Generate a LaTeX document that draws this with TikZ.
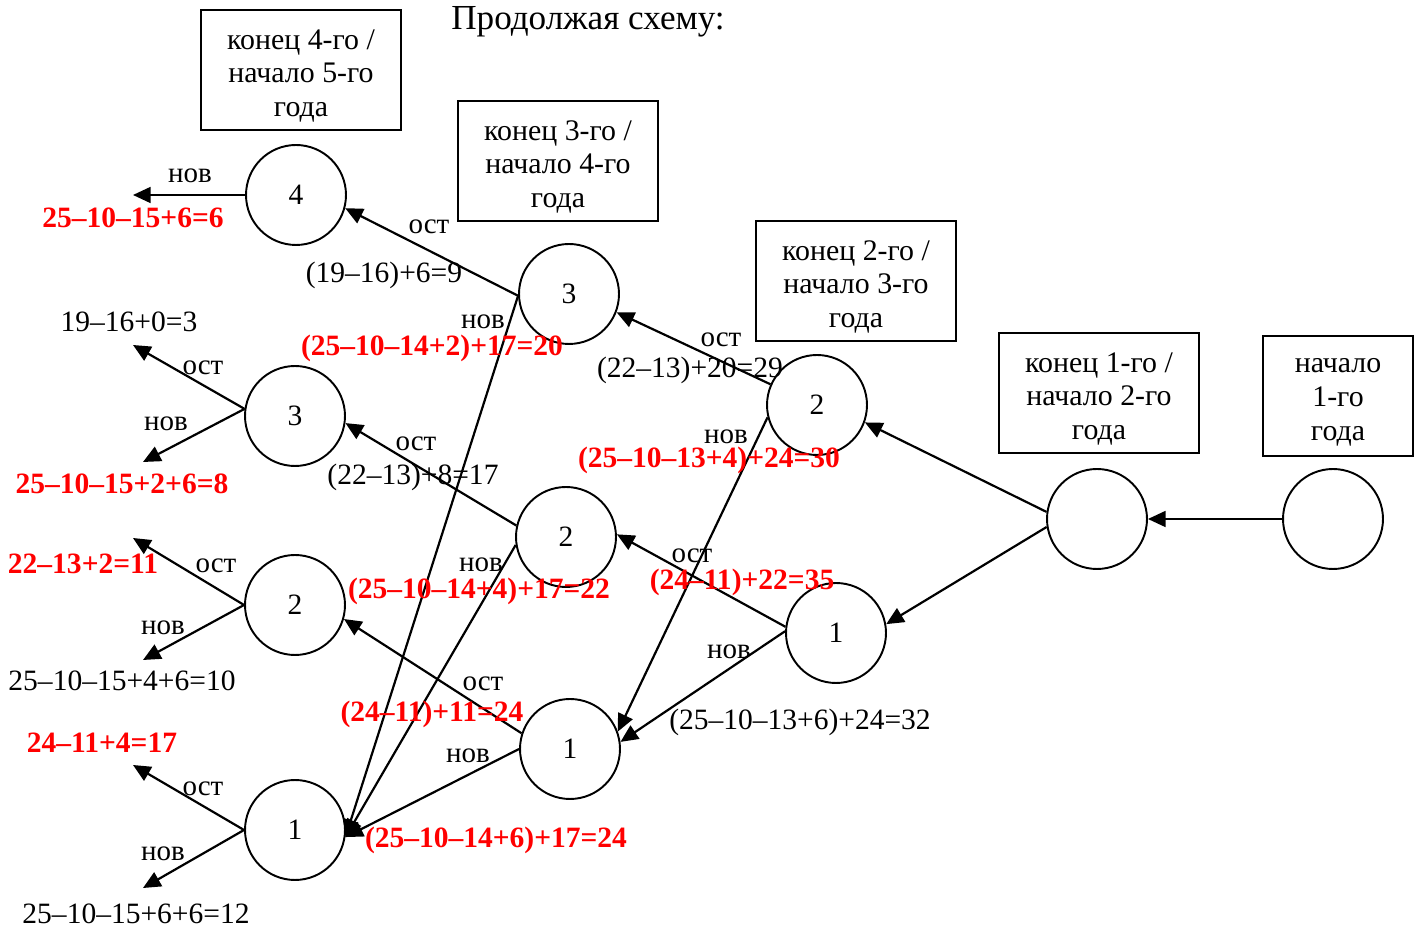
\documentclass[tikz,border=0pt]{standalone}
\usepackage{fontspec}
\setmainfont{Liberation Serif}
\usetikzlibrary{arrows.meta}
\begin{document}
\begin{tikzpicture}[x=0.02cm,y=-0.02cm,
  st/.style={circle,draw,line width=1.1pt,minimum size=2cm,inner sep=0pt,font=\fontsize{16.8}{19}\selectfont},
  yrbox/.style={draw,line width=1.1pt,minimum width=4cm,minimum height=2.4cm,inner sep=0pt},
  yrtext/.style={align=center,inner sep=0pt,font=\fontsize{17}{19.3}\selectfont},
  ar/.style={line width=1.25pt,-{Triangle[length=10pt,width=9pt]}},
  lab/.style={inner sep=0pt,font=\fontsize{16.5}{19}\selectfont},
  val/.style={inner sep=0pt,font=\fontsize{16.8}{19}\selectfont},
  rval/.style={inner sep=0pt,text=red,font=\fontsize{16.8}{19}\selectfont\bfseries},
]
\useasboundingbox (0,0) rectangle (1421,928);

% title
\node[inner sep=0pt,font=\fontsize{20}{23}\selectfont] (title) at (588,22) {Продолжая схему:};

% boxes
\node[yrbox] (bx4) at (301,70) {};
\node[yrbox] (bx3) at (558,161) {};
\node[yrbox] (bx2) at (856,281) {};
\node[yrbox] (bx1) at (1099,393) {};
\node[yrbox,minimum width=3cm] (bx0) at (1338,396) {};
\node[yrtext] (tx4) at ([yshift=-0.12cm]bx4.center) {конец 4-го /\\начало 5-го\\года};
\node[yrtext] (tx3) at ([yshift=-0.12cm]bx3.center) {конец 3-го /\\начало 4-го\\года};
\node[yrtext] (tx2) at ([yshift=-0.12cm]bx2.center) {конец 2-го /\\начало 3-го\\года};
\node[yrtext] (tx1) at ([yshift=-0.12cm]bx1.center) {конец 1-го /\\начало 2-го\\года};
\node[yrtext] (tx0) at ([yshift=-0.12cm]bx0.center) {начало\\1-го\\года};

% states
\node[st] (s0) at (1333,519) {};
\node[st] (y1) at (1097,519) {};
\node[st] (a2) at (817,405) {2};
\node[st] (a1) at (836,633) {1};
\node[st] (b3) at (569,294) {3};
\node[st] (b2) at (566,537) {2};
\node[st] (b1) at (570,749) {1};
\node[st] (c4) at (296,195) {4};
\node[st] (c3) at (295,416) {3};
\node[st] (c2) at (295,605) {2};
\node[st] (c1) at (295,830) {1};

% free ends
\coordinate (e4n) at (133,195);
\coordinate (e3o) at (133,345);
\coordinate (e3n) at (143,462);
\coordinate (e2o) at (133,538);
\coordinate (e2n) at (143,660);
\coordinate (e1o) at (133,765);
\coordinate (e1n) at (143,888);

% connectors
\draw[ar] (s0.west) -- (y1.east);
\draw[ar] (y1.172) -- (a2.-20);
\draw[ar] (y1.-171) -- (a1.10);
\draw[ar] (a2.156) -- (b3.-21);
\draw[ar] (a2.-166) -- (b1.20);
\draw[ar] (a1.173) -- (b2.3);
\draw[ar] (a1.178) -- (b1.8);
\draw[ar] (b3.182) -- (c4.-15);
\draw[ar] (b3.182) -- (c1.-8);
\draw[ar] (b2.167) -- (c3.-8);
\draw[ar] (b2.189) -- (c1.-8);
\draw[ar] (b1.162) -- (c2.-16);
\draw[ar] (b1.180) -- (c1.-8);
\draw[ar] (c4.west) -- (e4n);
\draw[ar] (c3.172) -- (e3o);
\draw[ar] (c3.172) -- (e3n);
\draw[ar] (c2.west) -- (e2o);
\draw[ar] (c2.west) -- (e2n);
\draw[ar] (c1.west) -- (e1o);
\draw[ar] (c1.west) -- (e1n);

% labels, left column
\node[lab] (l4n) at (190,176) {нов};
\node[rval] (v4n) at (133,218) {25–10–15+6=6};
\node[val] (v3o) at (129,322) {19–16+0=3};
\node[lab] (l3o) at (203,368) {ост};
\node[lab] (l3n) at (166,424) {нов};
\node[rval] (v3n) at (122,484) {25–10–15+2+6=8};
\node[rval] (v2o) at (83,564) {22–13+2=11};
\node[lab] (l2o) at (216,566) {ост};
\node[lab] (l2n) at (163,628) {нов};
\node[val] (v2n) at (122,681) {25–10–15+4+6=10};
\node[rval] (v1o) at (102,743) {24–11+4=17};
\node[lab] (l1o) at (203,789) {ост};
\node[lab] (l1n) at (163,854) {нов};
\node[val] (v1n) at (136,914) {25–10–15+6+6=12};

% labels, column b
\node[lab] (lb3o) at (429,227) {ост};
\node[val] (vb3o) at (384,275) {(19–16)+6=9};
\node[lab] (lb3n) at (483,322) {нов};
\node[rval] (vb3n) at (432,348) {(25–10–14+2)+17=20};
\node[lab] (lb2o) at (416,444) {ост};
\node[val] (vb2o) at (413,477) {(22–13)+8=17};
\node[lab] (lb2n) at (481,565) {нов};
\node[rval] (vb2n) at (479,591) {(25–10–14+4)+17=22};
\node[lab] (lb1o) at (483,684) {ост};
\node[rval] (vb1o) at (432,714) {(24–11)+11=24};
\node[lab] (lb1n) at (468,756) {нов};
\node[rval] (vb1n) at (496,840) {(25–10–14+6)+17=24};

% labels, column a
\node[lab] (la2o) at (721,340) {ост};
\node[val] (va2o) at (690,370) {(22–13)+20=29};
\node[lab] (la2n) at (726,437) {нов};
\node[rval] (va2n) at (709,460) {(25–10–13+4)+24=30};
\node[lab] (la1o) at (692,556) {ост};
\node[rval] (va1o) at (742,582) {(24–11)+22=35};
\node[lab] (la1n) at (729,652) {нов};
\node[val] (va1n) at (800,722) {(25–10–13+6)+24=32};
\end{tikzpicture}
\end{document}
